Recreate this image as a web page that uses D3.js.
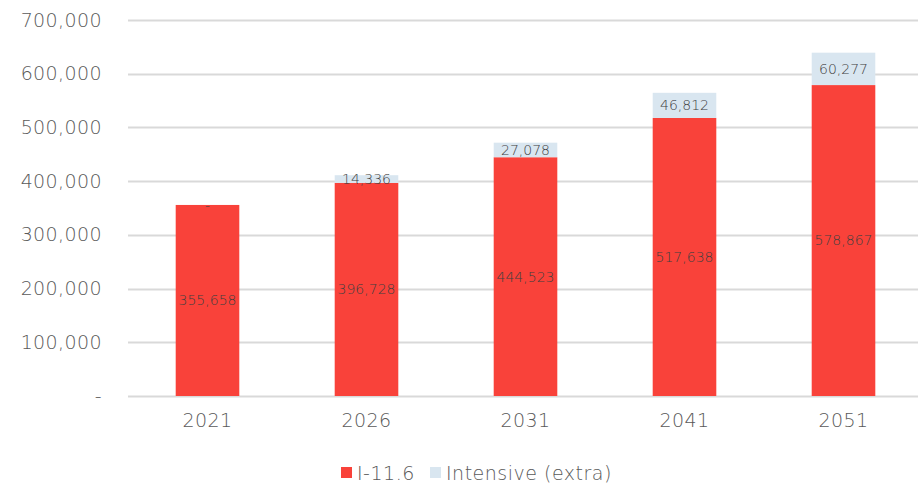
<!DOCTYPE html>
<html>
<head>
<meta charset="utf-8">
<script src="https://cdn.jsdelivr.net/npm/d3@7"></script>
<style>
  html, body { margin: 0; padding: 0; background: #fff; }
  svg { display: block; }
  svg text { font-family: "DejaVu Sans", "Open Sans", sans-serif; font-weight: 200; }
</style>
</head>
<body>
<svg id="chart" width="918" height="485"></svg>
<script>
// Scenario totals by year: base case plus additional intensive uplift
const years = ["2021", "2026", "2031", "2041", "2051"];
const baseValues = [355658, 396728, 444523, 517638, 578867];
const extraValues = [0, 14336, 27078, 46812, 60277];
const seriesNames = ["I-11.6", "Intensive (extra)"];
const yTicks = [0, 100000, 200000, 300000, 400000, 500000, 600000, 700000];

const colors = ["#F9423A", "#D9E6F0"];

const svg = d3.select("#chart");
const width = 918, height = 485;
const margin = { left: 128, right: -5, top: 20, bottom: 89 };

const rows = years.map((y, i) => ({ year: y, base: baseValues[i], extra: extraValues[i] }));
const stacked = d3.stack().keys(["base", "extra"])(rows);

const x = d3.scaleBand()
  .domain(years)
  .range([margin.left, width - margin.right])
  .paddingInner(0.6)
  .paddingOuter(0.3);

const y = d3.scaleLinear()
  .domain([0, 700000])
  .range([height - margin.bottom, margin.top]);

const fmt = d3.format(",");

// Horizontal gridlines
svg.append("g")
  .selectAll("line")
  .data(yTicks)
  .join("line")
  .attr("x1", margin.left)
  .attr("x2", width)
  .attr("y1", d => Math.round(y(d)) + 0.5)
  .attr("y2", d => Math.round(y(d)) + 0.5)
  .attr("stroke", "#D9D9D9")
  .attr("stroke-width", 2);

// Y axis labels
const yAxis = d3.axisLeft(y)
  .tickValues(yTicks)
  .tickSize(0)
  .tickPadding(0)
  .tickFormat(d => d === 0 ? "-" : fmt(d));
svg.append("g")
  .attr("transform", `translate(${margin.left - 26},0)`)
  .call(yAxis)
  .attr("font-family", null)
  .call(g => g.select(".domain").remove())
  .selectAll("text")
  .attr("fill", "#595959")
  .attr("font-size", 19)
  .attr("letter-spacing", 0.4);

// X axis labels
const xAxis = d3.axisBottom(x).tickSize(0).tickPadding(0);
svg.append("g")
  .attr("transform", `translate(0,${height - margin.bottom + 17})`)
  .call(xAxis)
  .attr("font-family", null)
  .call(g => g.select(".domain").remove())
  .selectAll("text")
  .attr("fill", "#595959")
  .attr("font-size", 19)
  .attr("letter-spacing", 0.4);

// Stacked bars
const layers = svg.append("g")
  .selectAll("g")
  .data(stacked)
  .join("g")
  .attr("fill", (d, i) => colors[i]);

layers.selectAll("rect")
  .data(d => d)
  .join("rect")
  .attr("x", d => x(d.data.year))
  .attr("width", x.bandwidth())
  .attr("y", d => y(d[1]))
  .attr("height", d => y(d[0]) - y(d[1]));

// Value labels centred in each segment
layers.selectAll("text")
  .data(d => d)
  .join("text")
  .attr("x", d => x(d.data.year) + x.bandwidth() / 2)
  .attr("y", d => (y(d[0]) + y(d[1])) / 2)
  .attr("dy", "0.35em")
  .attr("text-anchor", "middle")
  .attr("fill", "#404040")
  .attr("font-size", 14)
  .text(d => {
    const v = d[1] - d[0];
    return v === 0 ? "-" : fmt(v);
  });

// Legend
const legend = svg.append("g").attr("transform", "translate(341,473)");
const legendOffsets = [0, 89];
seriesNames.forEach((name, i) => {
  const g = legend.append("g").attr("transform", `translate(${legendOffsets[i]},0)`);
  g.append("rect")
    .attr("x", 0).attr("y", -6)
    .attr("width", 11).attr("height", 11)
    .attr("fill", colors[i]);
  g.append("text")
    .attr("x", 16)
    .attr("y", 0)
    .attr("dy", "0.35em")
    .attr("fill", "#595959")
    .attr("font-size", 19)
    .attr("letter-spacing", 0.5)
    .text(name);
});
</script>
</body>
</html>
